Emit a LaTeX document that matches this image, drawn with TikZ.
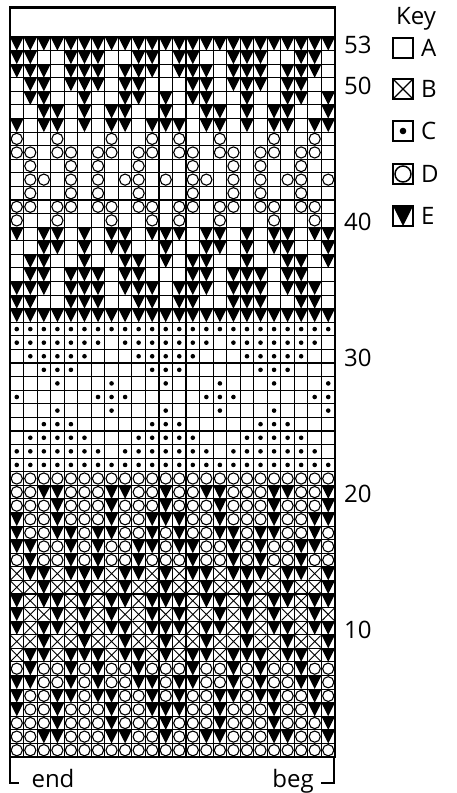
\documentclass[tikz,border=0pt]{standalone}
\usepackage{fontspec}
\setmainfont{Open Sans}
\newcount\colidx
\def\cw{13.5417}
\def\ch{13.5849}
\def\gx{10}
\def\gy{37}
\def\symA{}
\def\symV{\fill (\xl,\yt) -- ++(\cw,0) -- ++(-\cw/2,\ch) -- cycle;}
\def\symO{\draw[line width=1.1] (\xl+\cw/2,\yt+\ch/2) circle[radius=5.6];}
\def\symX{\draw[line width=0.9] (\xl+0.9,\yt+0.9) -- ++(\cw-1.8,\ch-1.8) (\xl+\cw-0.9,\yt+0.9) -- ++(-\cw+1.8,\ch-1.8);}
\def\symC{\fill (\xl+\cw/2,\yt+\ch/2) circle[radius=2.3];}
\def\drawcell#1{\pgfmathsetmacro\xl{\gx+\the\colidx*\cw}\csname sym#1\endcsname}
\def\dorow#1{\ifx#1\relax\else\drawcell{#1}\advance\colidx by 1\relax\expandafter\dorow\fi}
\newcommand\chartrow[2]{\colidx=0\relax\pgfmathsetmacro\yt{\gy+(53-#1)*\ch}\dorow#2\relax}
\newcommand\rowtw[2]{\chartrow{#1}{#2#2}}
\newcommand\rowth[2]{\chartrow{#1}{#2#2#2}}
\begin{document}
\begin{tikzpicture}[x=1pt,y=-1pt,
  lbl/.style={font=\fontsize{24}{24}\selectfont,inner sep=0pt},
  keybox/.style={draw,line width=1.6,minimum size=20pt,inner sep=0pt}]
\useasboundingbox (0,0) rectangle (456,793);
% symbols
\rowtw{53}{VVVVVVVVVVVV}
\rowtw{52}{VVAAVVVAAVVA}
\rowtw{51}{VVVAVVVAVVVA}
\rowtw{50}{AVVAVVVAVVAA}
\rowtw{49}{AVVAAVAAVVAV}
\rowtw{48}{AAVVAVAVVAAV}
\rowtw{47}{VAVVAVAVVAVV}
\rowtw{46}{OAAOAAAOAAOA}
\rowtw{45}{OOAOOAOOAOOA}
\rowtw{44}{AOAAOAOAAOAA}
\rowtw{43}{AOOAOAOAOOAO}
\rowtw{42}{AOAAOAOAAOAA}
\rowtw{41}{OOAOOAOOAOOA}
\rowtw{40}{OAAOAAAOAAOA}
\rowtw{39}{VAVVAVAVVAVV}
\rowtw{38}{AAVVAVAVVAAV}
\rowtw{37}{AVVAAVAAVVAV}
\rowtw{36}{AVVAVVVAVVAA}
\rowtw{35}{VVVAVVVAVVVA}
\rowtw{34}{VVAAVVVAAVVA}
\rowtw{33}{VVVVVVVVVVVV}
\rowth{32}{CCCCCCCC}
\rowth{31}{CCCCCCCA}
\rowth{30}{ACCCCCAA}
\rowth{29}{AACCCAAA}
\rowth{28}{AAACAAAC}
\rowth{27}{CAAAAACC}
\rowth{26}{AAACAAAC}
\rowth{25}{AACCCAAA}
\rowth{24}{ACCCCCAA}
\rowth{23}{CCCCCCCA}
\rowth{22}{CCCCCCCC}
\rowtw{21}{OOOOOOOOOOOO}
\rowtw{20}{OOVVOOOVVOOV}
\rowtw{19}{OOOVOOOVOOOV}
\rowtw{18}{VOOVOOOVOOVV}
\rowtw{17}{VOOVVOVVOOVO}
\rowtw{16}{VVOOVOVOOVVO}
\rowtw{15}{OVOOVOVOOVOO}
\rowtw{14}{XVVXVVVXVVXV}
\rowtw{13}{XXVXXVXXVXXV}
\rowtw{12}{VXVVXVXVVXVV}
\rowtw{11}{VXXVXVXVXXVX}
\rowtw{10}{VXVVXVXVVXVV}
\rowtw{9}{XXVXXVXXVXXV}
\rowtw{8}{XVVXVVVXVVXV}
\rowtw{7}{OVOOVOVOOVOO}
\rowtw{6}{VVOOVOVOOVVO}
\rowtw{5}{VOOVVOVVOOVO}
\rowtw{4}{VOOVOOOVOOVV}
\rowtw{3}{OOOVOOOVOOOV}
\rowtw{2}{OOVVOOOVVOOV}
\rowtw{1}{OOOOOOOOOOOO}
% grid
\foreach \i in {1,...,23} \draw[line width=1.1] (\gx+\i*\cw,\gy) -- ++(0,53*\ch);
\foreach \j in {1,...,52} \draw[line width=1.1] (\gx,\gy+\j*\ch) -- ++(24*\cw,0);
\draw[line width=1.8] (\gx,\gy) -- ++(24*\cw,0);
\draw[line width=2.2] (10,7.5) rectangle (335,757);
% row numbers
\foreach \r in {53,50,40,30,20,10}
  \node[lbl,anchor=west] (n\r) at (344,{\gy+(53-\r+0.5)*\ch+1.5}) {\r};
% key
\node[lbl,anchor=west] (key) at (396,19) {Key};
\node[keybox] (kA) at (403,48) {};
\node[keybox] (kB) at (403,89) {};
\node[keybox] (kC) at (403,131) {};
\node[keybox] (kD) at (403,174) {};
\node[keybox] (kE) at (403,216) {};
\draw[line width=1.1] (kB.south west) ++(2,-2) -- ([shift={(-2,2)}]kB.north east);
\draw[line width=1.1] (kB.north west) ++(2,2) -- ([shift={(-2,-2)}]kB.south east);
\fill (kC) circle[radius=3.3];
\draw[line width=1.5] (kD) circle[radius=8];
\fill ([shift={(0.8,0.8)}]kE.north west) -- ([shift={(-0.8,0.8)}]kE.north east) -- ([shift={(0,-0.8)}]kE.south) -- cycle;
\foreach \k/\t in {A/A,B/B,C/C,D/D,E/E}
  \node[lbl,anchor=west] (t\k) at ([xshift=7]k\k.east) {\t};
% bottom brackets
\coordinate (bl) at (10,757);
\coordinate (br) at (334,757);
\draw[line width=1.5] (bl) -- ++(0,26) -- ++(9,0);
\draw[line width=1.5] (br) -- ++(0,26) -- ++(-13,0);
\node[lbl,anchor=base] (end) at (53,787) {end};
\node[lbl,anchor=base] (beg) at (293,787) {beg};
\end{tikzpicture}
\end{document}
